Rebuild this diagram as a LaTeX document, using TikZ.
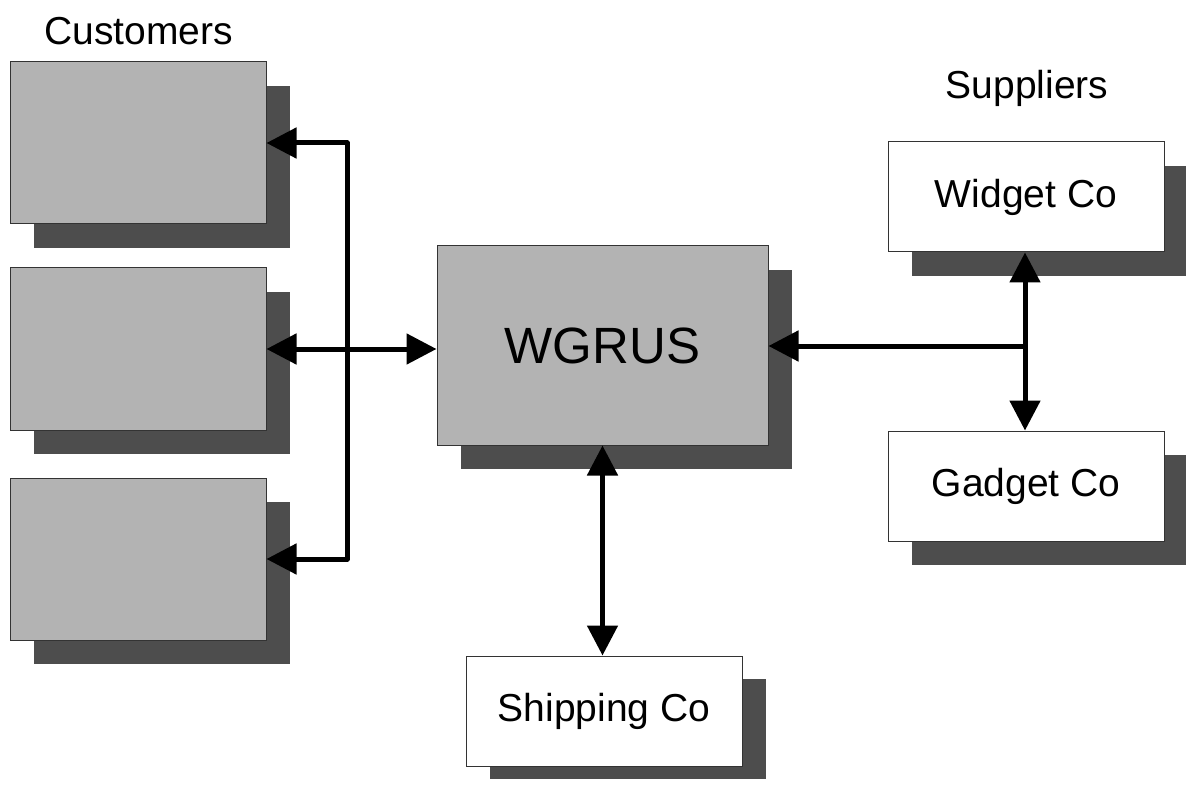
\documentclass[tikz,border=0pt]{standalone}
\usepackage{fontspec}
\setmainfont{Liberation Sans}
\usetikzlibrary{arrows.meta,shadows}
\definecolor{boxgray}{HTML}{B3B3B3}
\definecolor{shgray}{HTML}{4D4D4D}
\definecolor{edgegray}{HTML}{333333}
\tikzset{
  plainbox/.style={draw=edgegray, line width=1pt, inner sep=0pt,
    font=\fontsize{39}{46}\selectfont},
  box/.style={plainbox,
    drop shadow={shadow xshift=24pt, shadow yshift=-24pt, opacity=1, fill=shgray}},
  graybox/.style={box, fill=boxgray},
  whitebox/.style={box, fill=white},
  conn/.style={line width=5pt, line join=round,
    arrows={-}, >={Triangle[length=30pt,width=30pt]}},
  lbl/.style={font=\fontsize{39}{46}\selectfont, anchor=base, inner sep=0pt}
}
\begin{document}
\begin{tikzpicture}[x=1pt,y=-1pt]
\useasboundingbox (0,0) rectangle (1186,786);
% customers
\node[graybox, minimum width=256pt, minimum height=162pt] (c1) at (138,143) {};
\node[graybox, minimum width=256pt, minimum height=162pt] (c2) at (138,349) {};
\node[graybox, minimum width=256pt, minimum height=162pt] (c3) at (138,559) {};
\node[lbl] (cust) at (138.5,45) {Customers};
% WGRUS
\node[graybox, minimum width=331pt, minimum height=199pt, font=\fontsize{51}{60}\selectfont] (wg) at (602.5,345.5) {WGRUS};
% suppliers
\node[lbl] (supp) at (1027,99) {Suppliers};
\node[whitebox, minimum width=276pt, minimum height=110pt] (widget) at (1026,197) {Widget Co};
\node[whitebox, minimum width=276pt, minimum height=110pt] (gadget) at (1026,486) {Gadget Co};
% shipping
\fill[shgray] (490,679) rectangle (766,779);
\node[plainbox, fill=white, minimum width=276pt, minimum height=110pt] (ship) at (604,711) {Shipping Co};
% connectors
\coordinate (cx) at (347,143);
\draw[conn,<->] (c1.east) -- (cx) |- (c3.east);
\draw[conn,<->] (c2.east) -- (wg.west |- c2.east);
\coordinate (j) at (1025,346);
\draw[conn,->] (j) -- (wg.east |- j);
\draw[conn,<->] (widget.south -| j) -- (gadget.north -| j);
\draw[conn,<->] (wg.south) -- (ship.north -| wg.south);
\end{tikzpicture}
\end{document}
